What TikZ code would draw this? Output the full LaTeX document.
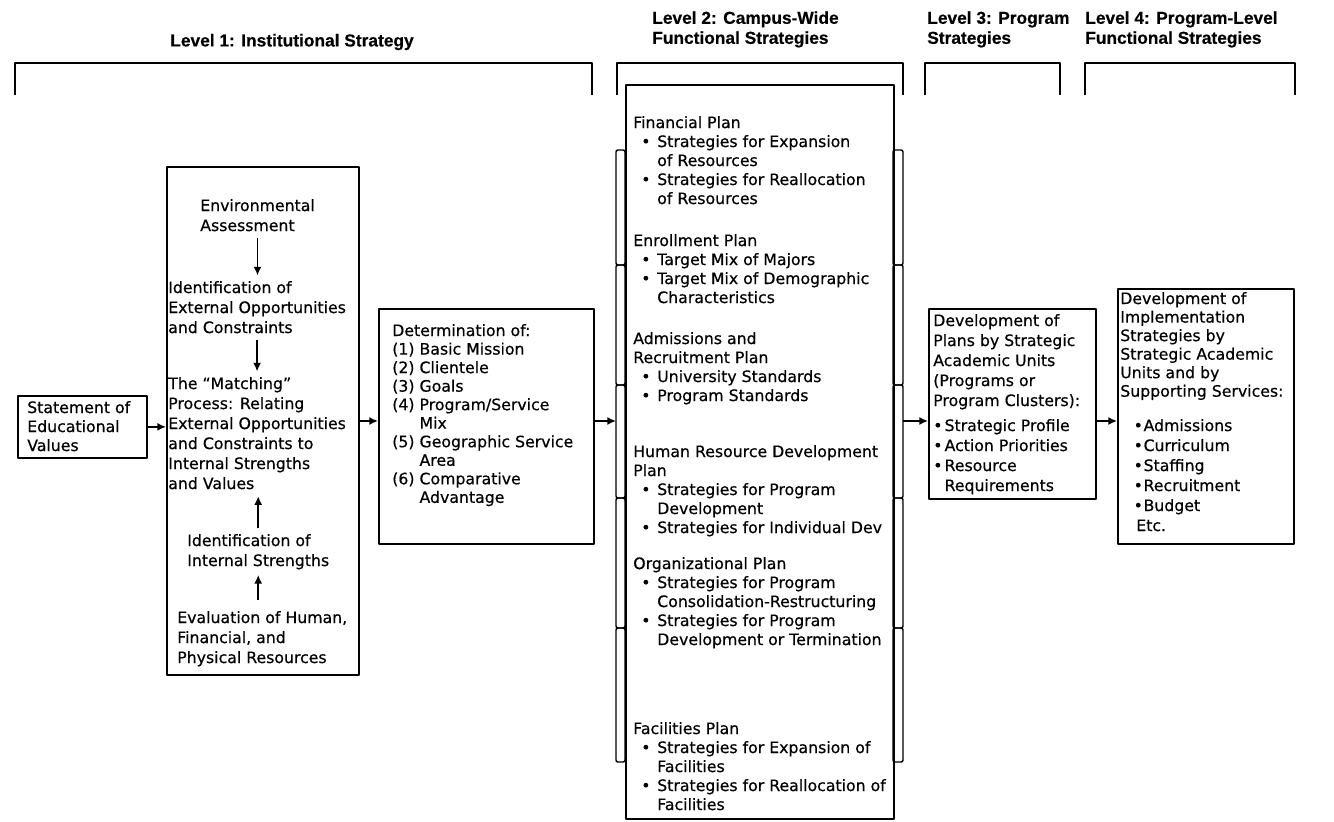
\documentclass[tikz,border=0pt]{standalone}
\usepackage{fontspec}
\setmainfont{DejaVu Sans}[FakeBold=0.5]
\newfontfamily\hdrfont{Liberation Sans}[FakeBold=0.4]
\usetikzlibrary{arrows.meta,calc}
\newcommand\bulA{\hspace*{6pt}\makebox[12pt][l]{\textbullet}}
\newcommand\contA{\hspace*{18pt}}
\newcommand\bulB{\makebox[8.5pt][l]{\textbullet}}
\newcommand\contB{\hspace*{8.5pt}}
\newcommand\bulC{\hspace*{10pt}\makebox[7.5pt][l]{\textbullet}}
\begin{document}
\begin{tikzpicture}[x=0.75pt,y=-0.75pt,line join=round,
  box/.style={draw,line width=1.3pt,inner sep=0pt,anchor=north west},
  txt/.style={anchor=north west,inner sep=0pt,align=left,font=\fontsize{11.8}{15}\selectfont},
  ctxt/.style={txt,font=\fontsize{11.8}{14.25}\selectfont},
  dtxt/.style={txt,font=\fontsize{11.8}{13.9}\selectfont},
  hdr/.style={anchor=north west,inner sep=0pt,align=left,font=\hdrfont\bfseries\fontsize{13}{15}\selectfont},
  arr/.style={line width=1.2pt,-{Latex[length=6.5pt,width=6pt]}},
  brk/.style={line width=1.3pt},
  tabbox/.style={line width=1.1pt,rounded corners=1.5pt}]
\useasboundingbox (0,0) rectangle (1334,821);

% headers
\node[hdr,anchor=center] (h1) at (292,42) {Level 1: Institutional Strategy};
\node[hdr] (h2) at (652,11) {Level 2: Campus-Wide\\Functional Strategies};
\node[hdr] (h3) at (927,11) {Level 3: Program\\Strategies};
\node[hdr] (h4) at (1085,11) {Level 4: Program-Level\\Functional Strategies};

% brackets
\draw[brk] (15,95) -- (15,63) -- (592,63) -- (592,95);
\draw[brk] (617,95) -- (617,63) -- (903,63) -- (903,95);
\draw[brk] (925,95) -- (925,63) -- (1060,63) -- (1060,95);
\draw[brk] (1085,95) -- (1085,63) -- (1295,63) -- (1295,95);

% boxes
\node[box,minimum width=96.75pt,minimum height=46.5pt] (stmt) at (17,395) {};
\node[box,minimum width=144pt,minimum height=381pt] (lvl1) at (166,166) {};
\node[box,minimum width=161.25pt,minimum height=176.25pt] (det) at (378,308) {};
\node[box,minimum width=201pt,minimum height=550.5pt] (ctr) at (625,84) {};
\node[box,minimum width=125.25pt,minimum height=142.5pt] (l3) at (928,308) {};
\node[box,minimum width=132pt,minimum height=191.25pt] (l4) at (1117,288) {};

% side tabs of the central box
\foreach \a/\b in {150/265,265/385,385/498,498/628,628/762}{
  \draw[tabbox] (616,\a) rectangle (625,\b);
  \draw[tabbox] (893,\a) rectangle (903,\b);
}
\coordinate (tabL) at (616,0);
\coordinate (tabR) at (903,0);

% statement
\node[ctxt] (stmtt) at (27,400.8) {Statement of\\Educational\\Values};

% level 1 contents
\node[txt] (env) at (200,198.8) {Environmental\\Assessment};
\node[txt] (ext) at (168,280.8) {Identification of\\External Opportunities\\and Constraints};
\node[txt] (match) at (168,376.8) {The “Matching”\\Process: Relating\\External Opportunities\\and Constraints to\\Internal Strengths\\and Values};
\node[txt] (intl) at (187,533.8) {Identification of\\Internal Strengths};
\node[txt] (eval) at (177,610.8) {Evaluation of Human,\\Financial, and\\Physical Resources};

\draw[arr,shorten <=5pt,shorten >=4pt] (env.south) -- (env.south |- ext.north);
\draw[arr,shorten <=5pt,shorten >=4pt] (ext.south) -- (ext.south |- match.north);
\draw[arr,shorten <=4pt,shorten >=5pt] (intl.north) -- (intl.north |- match.south);
\draw[arr,shorten <=8pt,shorten >=4pt] (eval.north -| intl.south) -- (intl.south);

% determination
\node[dtxt] (dett) at (392,323.8) {Determination of:\\(1) Basic Mission\\(2) Clientele\\(3) Goals\\(4) Program/Service\\\phantom{(4) }Mix\\(5) Geographic Service\\\phantom{(5) }Area\\(6) Comparative\\\phantom{(6) }Advantage};

% central column
\node[ctxt] (fin) at (633,115.8) {Financial Plan\\\bulA Strategies for Expansion\\\contA of Resources\\\bulA Strategies for Reallocation\\\contA of Resources};
\node[ctxt] (enr) at (633,233.8) {Enrollment Plan\\\bulA Target Mix of Majors\\\bulA Target Mix of Demographic\\\contA Characteristics};
\node[ctxt] (adm) at (633,331.8) {Admissions and\\Recruitment Plan\\\bulA University Standards\\\bulA Program Standards};
\node[ctxt] (hum) at (633,444.8) {Human Resource Development\\Plan\\\bulA Strategies for Program\\\contA Development\\\bulA Strategies for Individual Dev};
\node[ctxt] (org) at (633,556.8) {Organizational Plan\\\bulA Strategies for Program\\\contA Consolidation-Restructuring\\\bulA Strategies for Program\\\contA Development or Termination};
\node[ctxt] (fac) at (633,721.8) {Facilities Plan\\\bulA Strategies for Expansion of\\\contA Facilities\\\bulA Strategies for Reallocation of\\\contA Facilities};

% level 3
\node[txt] (l3t) at (933,313.8) {Development of\\Plans by Strategic\\Academic Units\\(Programs or\\Program Clusters):\\[3.75pt]\bulB Strategic Profile\\\bulB Action Priorities\\\bulB Resource\\\contB Requirements};

% level 4
\node[dtxt] (l4a) at (1120,291.8) {Development of\\Implementation\\Strategies by\\Strategic Academic\\Units and by\\Supporting Services:};
\node[txt] (l4b) at (1120,418.8) {\bulC Admissions\\\bulC Curriculum\\\bulC Staffing\\\bulC Recruitment\\\bulC Budget\\\hspace*{12pt}Etc.};

% main flow
\coordinate (ay) at (0,421);
\draw[arr] (stmt.east) -- (stmt.east -| lvl1.west);
\draw[arr] (lvl1.east |- ay) -- (det.west |- ay);
\draw[arr] (det.east |- ay) -- (tabL |- ay);
\draw[arr] (tabR |- ay) -- (l3.west |- ay);
\draw[arr] (l3.east |- ay) -- (l4.west |- ay);
\end{tikzpicture}
\end{document}
